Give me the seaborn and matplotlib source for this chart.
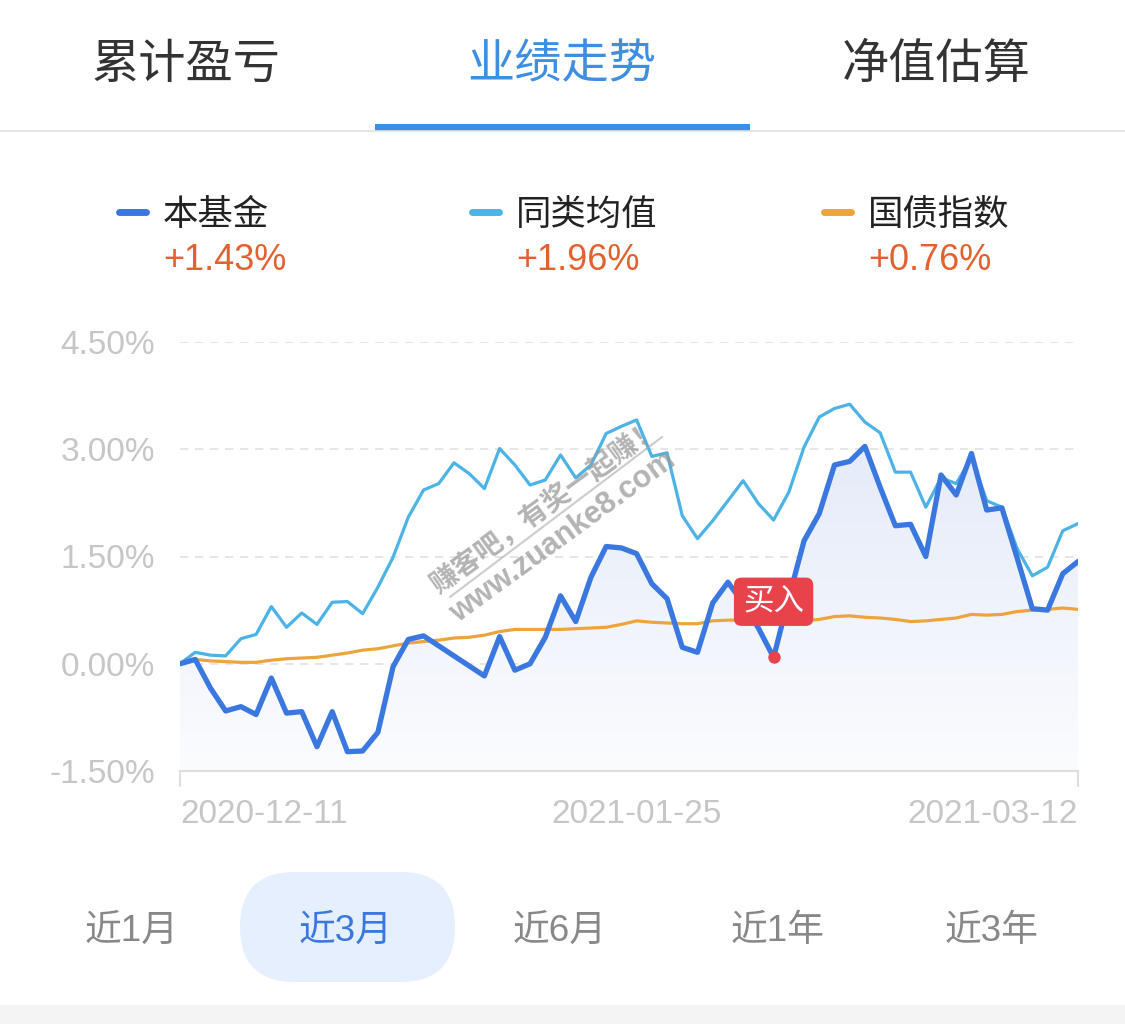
import numpy as np
import pandas as pd
import matplotlib
matplotlib.use("Agg")
import matplotlib.pyplot as plt
import seaborn as sns
from matplotlib.patches import FancyBboxPatch, PathPatch, Rectangle
from matplotlib.colors import LinearSegmentedColormap

# ---------------- data ----------------
fund = [0.00, 0.06, -0.34, -0.66, -0.60, -0.71, -0.20, -0.69, -0.67, -1.16,
        -0.67, -1.23, -1.22, -0.96, -0.04, 0.34, 0.39, 0.25, 0.11, -0.03,
        -0.17, 0.38, -0.09, 0.00, 0.37, 0.95, 0.59, 1.21, 1.64, 1.62,
        1.54, 1.12, 0.91, 0.23, 0.16, 0.85, 1.14, 0.85, 0.50, 0.09,
        0.92, 1.72, 2.10, 2.78, 2.83, 3.04, 2.47, 1.93, 1.95, 1.50,
        2.64, 2.36, 2.94, 2.15, 2.18, 1.48, 0.77, 0.75, 1.26, 1.43]
peer = [0.00, 0.16, 0.12, 0.11, 0.35, 0.41, 0.80, 0.51, 0.71, 0.55,
        0.86, 0.87, 0.70, 1.07, 1.49, 2.05, 2.43, 2.52, 2.81, 2.66,
        2.45, 3.01, 2.78, 2.50, 2.57, 2.92, 2.60, 2.78, 3.22, 3.32,
        3.41, 2.90, 2.95, 2.07, 1.75, 2.00, 2.28, 2.56, 2.24, 2.01,
        2.40, 3.03, 3.45, 3.57, 3.63, 3.38, 3.23, 2.68, 2.68, 2.19,
        2.60, 2.52, 2.88, 2.28, 2.19, 1.61, 1.23, 1.35, 1.86, 1.96]
bond = [0.00, 0.06, 0.04, 0.03, 0.02, 0.02, 0.05, 0.07, 0.08, 0.09,
        0.12, 0.15, 0.19, 0.21, 0.25, 0.29, 0.31, 0.33, 0.36, 0.37,
        0.40, 0.45, 0.48, 0.48, 0.48, 0.48, 0.49, 0.50, 0.51, 0.55,
        0.60, 0.58, 0.57, 0.56, 0.56, 0.60, 0.61, 0.61, 0.61, 0.60,
        0.60, 0.60, 0.62, 0.66, 0.67, 0.65, 0.64, 0.62, 0.59, 0.60,
        0.62, 0.64, 0.69, 0.68, 0.69, 0.73, 0.75, 0.76, 0.78, 0.76]

series_names = ["本基金", "同类均值", "国债指数"]
series_returns = ["+1.43%", "+1.96%", "+0.76%"]
x_tick_pos = [0, 30, 59]
x_tick_labels = ["2020-12-11", "2021-01-25", "2021-03-12"]
y_ticks = [-1.5, 0.0, 1.5, 3.0, 4.5]
y_tick_labels = ["-1.50%", "0.00%", "1.50%", "3.00%", "4.50%"]
tabs = ["累计盈亏", "业绩走势", "净值估算"]
periods = ["近1月", "近3月", "近6月", "近1年", "近3年"]
buy_index = 39
buy_label = "买入"
watermark_1 = "赚客吧，有奖一起赚！"
watermark_2 = "www.zuanke8.com"

idx = np.arange(len(fund))
df = pd.DataFrame({"idx": idx, "fund": fund, "peer": peer, "bond": bond})

# ---------------- style ----------------
sns.set_theme(style="white")
plt.rcParams["font.family"] = ["Liberation Sans", "Noto Sans CJK SC", "DejaVu Sans"]

C_FUND = "#3a78e0"
C_PEER = "#4bb3e6"
C_BOND = "#eca43d"
C_RET = "#e2612f"
C_TICK = "#c6c6c6"

W, H = 1125, 1024
fig = plt.figure(figsize=(W / 100, H / 100), dpi=100)
fig.patch.set_facecolor("white")

bg = fig.add_axes([0, 0, 1, 1], zorder=0)
bg.set_xlim(0, W)
bg.set_ylim(H, 0)
bg.axis("off")

ax = fig.add_axes([180 / W, 1 - 771 / H, 898 / W, 429 / H], zorder=2)
ax.set_facecolor("none")

# gradient fill under fund line
top = max(fund)
poly = ax.fill_between(df["idx"], df["fund"], -1.5, color="none", lw=0)
clip = PathPatch(poly.get_paths()[0], transform=ax.transData,
                 facecolor="none", edgecolor="none")
ax.add_patch(clip)
cmap = LinearSegmentedColormap.from_list("g", ["#fbfcfe", "#e5ebf9"])
grad = np.linspace(0, 1, 256).reshape(-1, 1)
im = ax.imshow(grad, extent=[0, len(fund) - 1, -1.5, top], origin="lower",
               aspect="auto", cmap=cmap, vmin=0, vmax=1, zorder=1)
im.set_clip_path(clip)

# lines
sns.lineplot(data=df, x="idx", y="bond", ax=ax, color=C_BOND, lw=2.3, zorder=3)
sns.lineplot(data=df, x="idx", y="peer", ax=ax, color=C_PEER, lw=2.3, zorder=4)
sns.lineplot(data=df, x="idx", y="fund", ax=ax, color=C_FUND, lw=3.8, zorder=5)
for ln in ax.lines:
    ln.set_solid_joinstyle("round")
    ln.set_solid_capstyle("round")

# buy marker
ax.scatter([buy_index], [fund[buy_index]], s=80, color="#e8434b", lw=0, zorder=7)
ax.annotate(buy_label, xy=(buy_index, fund[buy_index]), xytext=(0, 40),
            textcoords="offset points", ha="center", va="center",
            fontsize=22, color="white", zorder=8,
            bbox=dict(boxstyle="round,pad=0.3,rounding_size=0.25",
                      fc="#e8434b", ec="none"))

# axes formatting
ax.set_xlim(0, len(fund) - 1)
ax.set_ylim(-1.5, 4.5)
ax.set_yticks(y_ticks)
ax.set_yticklabels(y_tick_labels)
ax.set_xticks(x_tick_pos)
ax.set_xticklabels(x_tick_labels)
xl = ax.get_xticklabels()
xl[0].set_ha("left")
xl[1].set_ha("center")
xl[2].set_ha("right")
ax.tick_params(axis="x", length=0, pad=20, labelsize=24, labelcolor=C_TICK)
ax.tick_params(axis="y", length=0, pad=18, labelsize=24, labelcolor=C_TICK)
ax.set_xlabel("")
ax.set_ylabel("")
ax.yaxis.grid(True, color="#e2e2e2", ls=(0, (5, 4)), lw=1.2)
ax.xaxis.grid(False)
ax.set_axisbelow(True)
for s in ["top", "left", "right"]:
    ax.spines[s].set_visible(False)
ax.spines["bottom"].set_color("#dedede")
ax.spines["bottom"].set_linewidth(1.5)

# end tick marks
for xp in (180, 1078):
    bg.plot([xp, xp], [771, 786], color="#dedede", lw=1.5)

# ---------------- header tabs ----------------
tab_x = [186, 562, 936]
tab_colors = ["#333333", "#3d8fe2", "#333333"]
for t, x, c in zip(tabs, tab_x, tab_colors):
    bg.text(x, 66, t, ha="center", va="center", fontsize=34, color=c)
bg.plot([0, W], [131, 131], color="#e0e0e0", lw=1.2)
bg.add_patch(Rectangle((375, 124), 375, 7, color="#3a8ee6", lw=0))

# ---------------- legend ----------------
leg_x = [115, 468, 820]
leg_c = [C_FUND, C_PEER, C_BOND]
for name, ret, x, c in zip(series_names, series_returns, leg_x, leg_c):
    bg.plot([x + 4, x + 31], [212, 212], color=c, lw=5, solid_capstyle="round")
    bg.text(x + 48, 215, name, ha="left", va="center", fontsize=25.5, color="#222222")
    bg.text(x + 48, 261, ret, ha="left", va="center", fontsize=26, color=C_RET)

# ---------------- period buttons ----------------
bg.add_patch(FancyBboxPatch((240, 872), 215, 110,
                            boxstyle="round,pad=0,rounding_size=55",
                            fc="#e5effd", ec="none"))
per_x = [131, 346, 560, 777, 992]
for i, (p, x) in enumerate(zip(periods, per_x)):
    bg.text(x, 931, p, ha="center", va="center", fontsize=26.5,
            color="#3a78dd" if i == 1 else "#888888")
bg.add_patch(Rectangle((0, 1005), W, 19, color="#f4f4f4", lw=0))

# ---------------- watermark ----------------
ax.text(546, 506, watermark_1, transform=bg.transData, rotation=36,
        rotation_mode="anchor", ha="center", va="center", fontsize=20,
        color="#9a9a9a", alpha=0.75, fontweight="bold", zorder=9)
ax.text(563, 537, watermark_2, transform=bg.transData, rotation=36,
        rotation_mode="anchor", ha="center", va="center", fontsize=22,
        color="#9a9a9a", alpha=0.75, fontweight="bold", zorder=9)
ax.plot([450, 662], [597, 437], transform=bg.transData, color="#aaaaaa",
        alpha=0.6, lw=1.5, clip_on=False, zorder=9)

fig.savefig("out.png", dpi=100)
